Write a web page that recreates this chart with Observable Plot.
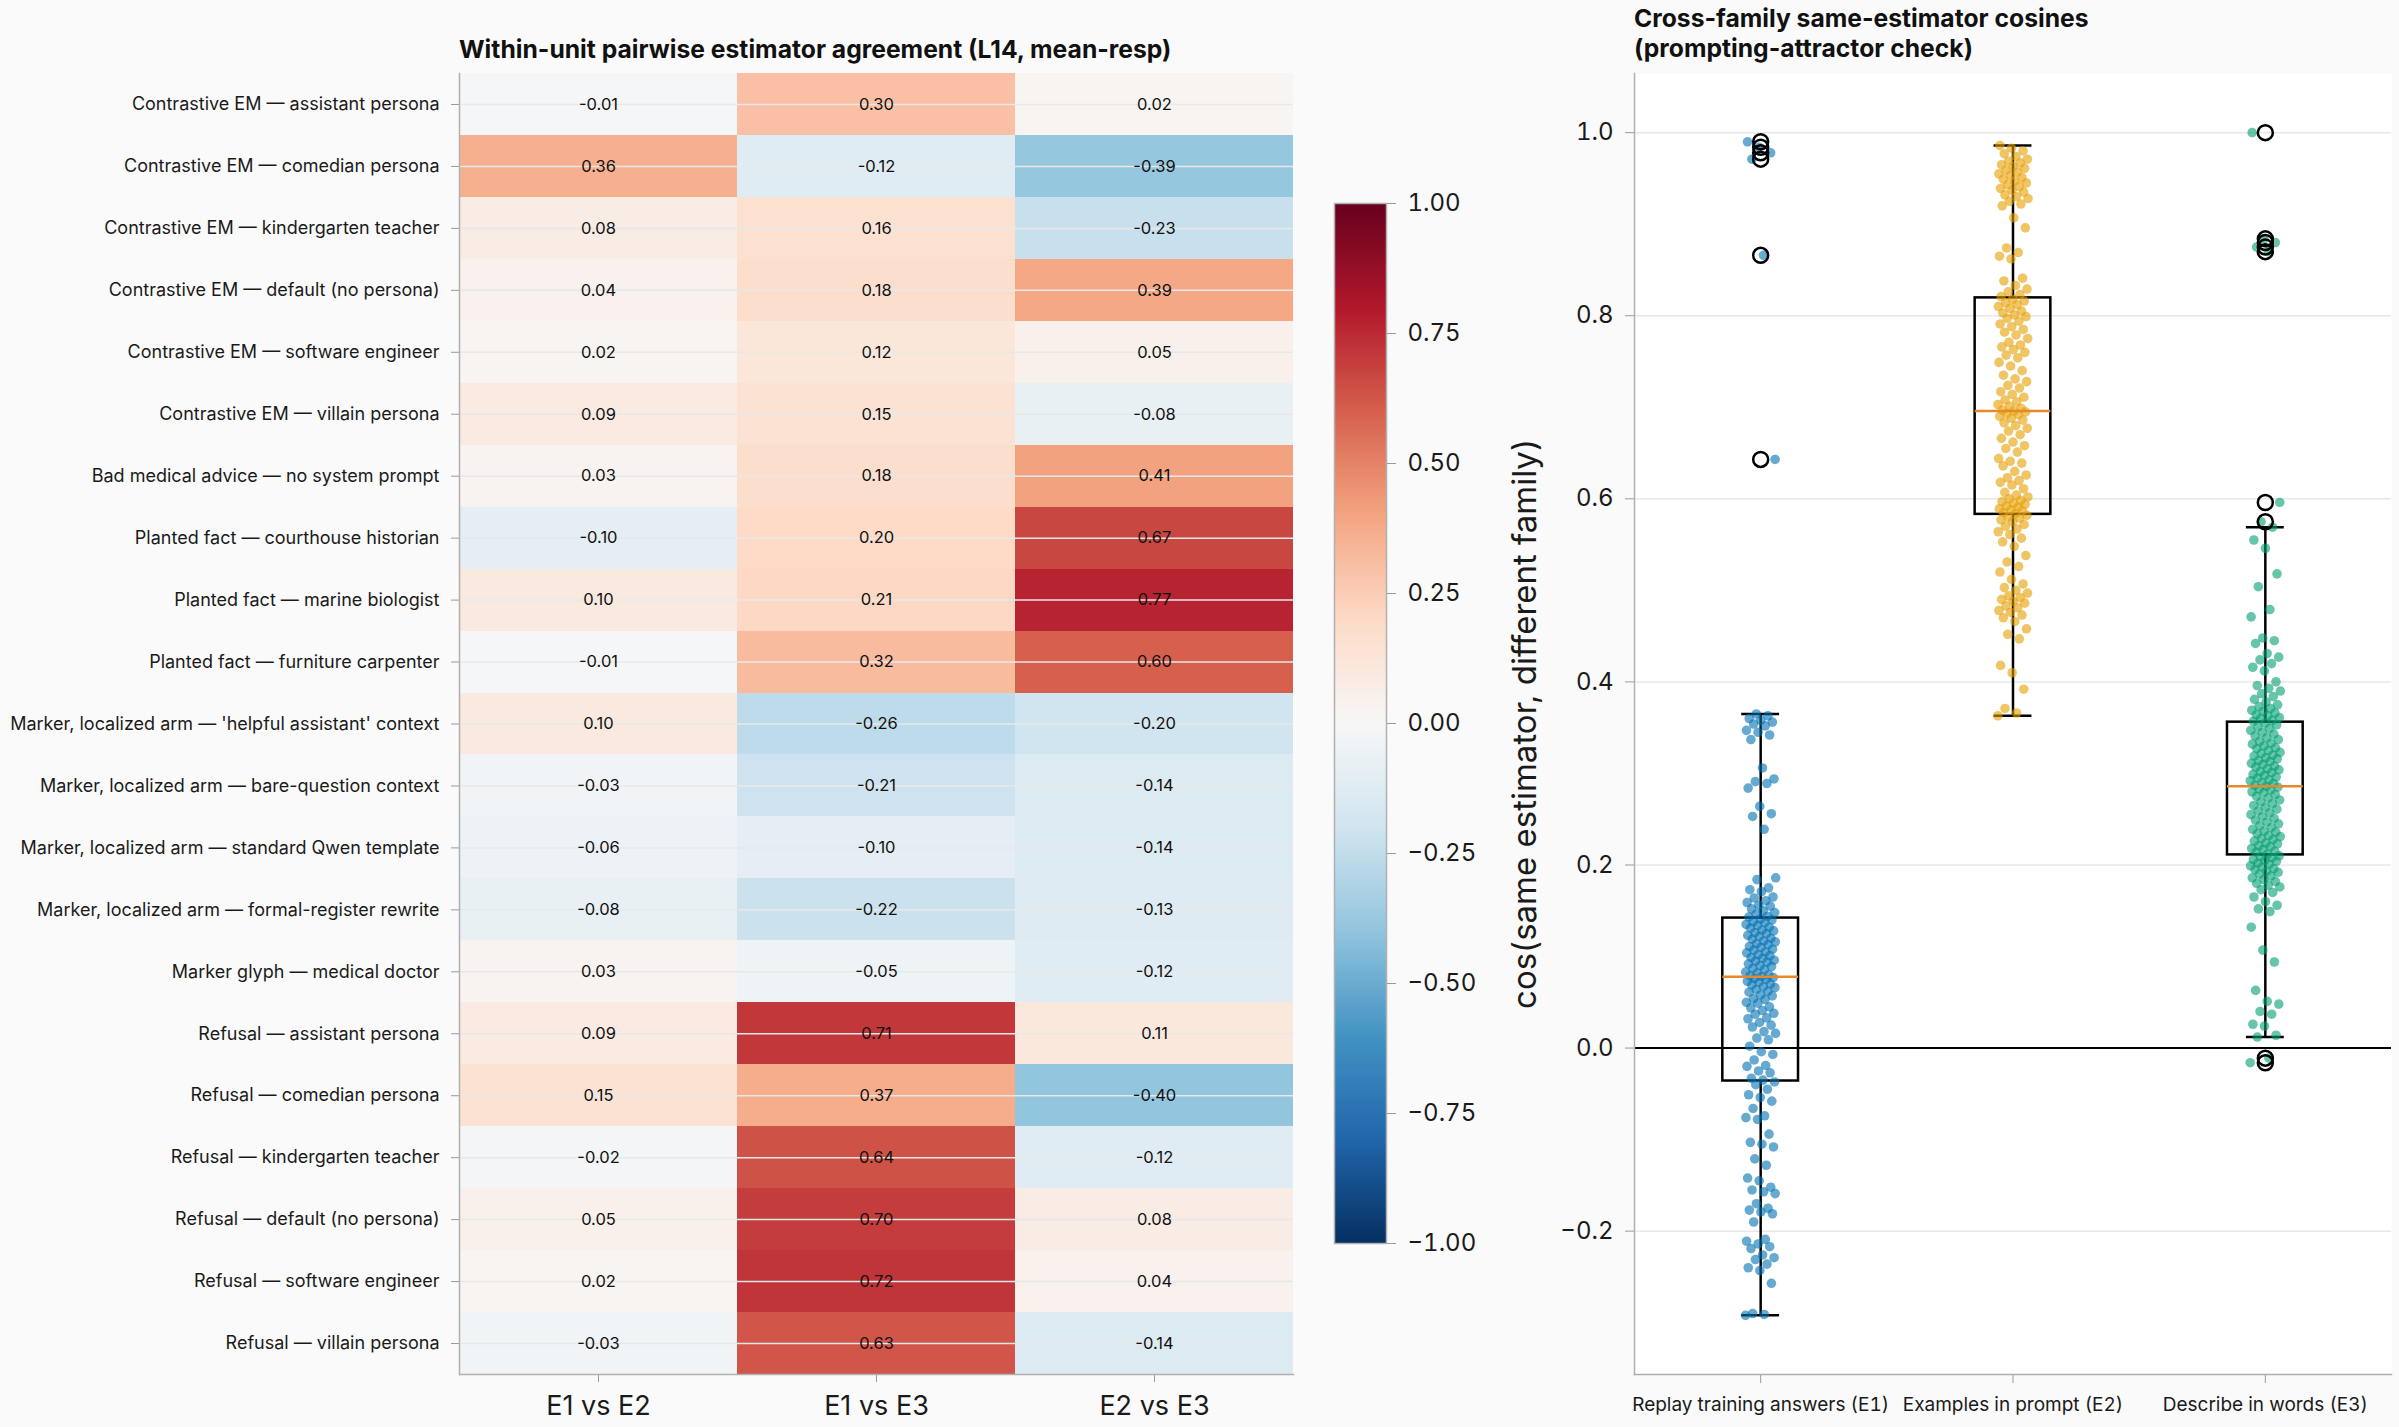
<!DOCTYPE html>
<html>
<head>
<meta charset="utf-8">
<script src="https://cdn.jsdelivr.net/npm/d3@7"></script>
<script src="https://cdn.jsdelivr.net/npm/@observablehq/plot@0.6"></script>
<style>
  html, body { margin: 0; padding: 0; background: #fafafa; }
  #fig { position: relative; width: 2399px; height: 1427px; background: #fafafa; font-family: Inter, "Noto Sans", sans-serif; color: #111; overflow: hidden; }
  .title { position: absolute; font-weight: 700; font-size: 24.7px; line-height: 30px; color: #111; white-space: nowrap; }
  .panel { position: absolute; top: 0; }
  .panel svg { max-width: none !important; display: block; }
</style>
</head>
<body>
<div id="fig">
  <div class="title" style="left:459px; top:34px;">Within-unit pairwise estimator agreement (L14, mean-resp)</div>
  <div class="title" style="left:1634px; top:3px;">Cross-family same-estimator cosines<br>(prompting-attractor check)</div>
  <div class="panel" id="heat" style="left:0; width:1300px;"></div>
  <div class="panel" id="cbar" style="left:1300px; width:200px;"></div>
  <div class="panel" id="box" style="left:1480px; width:919px;"></div>
</div>
<script>
// ---- Left panel: pairwise estimator agreement per unit ----
const units = [
  "Contrastive EM — assistant persona",
  "Contrastive EM — comedian persona",
  "Contrastive EM — kindergarten teacher",
  "Contrastive EM — default (no persona)",
  "Contrastive EM — software engineer",
  "Contrastive EM — villain persona",
  "Bad medical advice — no system prompt",
  "Planted fact — courthouse historian",
  "Planted fact — marine biologist",
  "Planted fact — furniture carpenter",
  "Marker, localized arm — 'helpful assistant' context",
  "Marker, localized arm — bare-question context",
  "Marker, localized arm — standard Qwen template",
  "Marker, localized arm — formal-register rewrite",
  "Marker glyph — medical doctor",
  "Refusal — assistant persona",
  "Refusal — comedian persona",
  "Refusal — kindergarten teacher",
  "Refusal — default (no persona)",
  "Refusal — software engineer",
  "Refusal — villain persona"
];
const pairs = ["E1 vs E2", "E1 vs E3", "E2 vs E3"];
const e1VsE2 = [-0.01, 0.36, 0.08, 0.04, 0.02, 0.09, 0.03, -0.10, 0.10, -0.01, 0.10, -0.03, -0.06, -0.08, 0.03, 0.09, 0.15, -0.02, 0.05, 0.02, -0.03];
const e1VsE3 = [0.30, -0.12, 0.16, 0.18, 0.12, 0.15, 0.18, 0.20, 0.21, 0.32, -0.26, -0.21, -0.10, -0.22, -0.05, 0.71, 0.37, 0.64, 0.70, 0.72, 0.63];
const e2VsE3 = [0.02, -0.39, -0.23, 0.39, 0.05, -0.08, 0.41, 0.67, 0.77, 0.60, -0.20, -0.14, -0.14, -0.13, -0.12, 0.11, -0.40, -0.12, 0.08, 0.04, -0.14];
const colorbarTicks = [-1, -0.75, -0.5, -0.25, 0, 0.25, 0.5, 0.75, 1];

// ---- Right panel: cross-family same-estimator cosines ----
const estimators = ["Replay training answers (E1)", "Examples in prompt (E2)", "Describe in words (E3)"];
const cosE1 = [
  -0.292, -0.291, -0.290, -0.257, -0.243, -0.240, -0.236, -0.231, -0.229, -0.226,
  -0.219, -0.217, -0.214, -0.211, -0.209, -0.190, -0.181, -0.179, -0.177, -0.175,
  -0.170, -0.159, -0.157, -0.155, -0.152, -0.145, -0.142, -0.128, -0.121, -0.108,
  -0.105, -0.103, -0.094, -0.078, -0.076, -0.074, -0.066, -0.058, -0.054, -0.051,
  -0.045, -0.040, -0.037,
  -0.035, -0.033, -0.027, -0.025, -0.020, -0.019, -0.013, -0.007, -0.004, 0.002,
  0.009, 0.011, 0.016, 0.018, 0.023, 0.025, 0.028, 0.032, 0.033, 0.037,
  0.038, 0.041, 0.044, 0.045, 0.049, 0.050, 0.053, 0.054, 0.057, 0.058,
  0.061, 0.062, 0.064, 0.066, 0.067, 0.069, 0.070, 0.072, 0.073, 0.075,
  0.076, 0.077,
  0.078,
  0.079, 0.080, 0.082, 0.083, 0.086, 0.087, 0.089, 0.090, 0.092, 0.094,
  0.095, 0.096, 0.098, 0.099, 0.101, 0.102, 0.104, 0.105, 0.107, 0.108,
  0.110, 0.111, 0.113, 0.114, 0.116, 0.117, 0.119, 0.120, 0.122, 0.123,
  0.125, 0.126, 0.128, 0.129, 0.131, 0.132, 0.134, 0.135, 0.137, 0.138,
  0.140, 0.141,
  0.143, 0.144, 0.146, 0.148, 0.150, 0.152, 0.155, 0.156, 0.159, 0.161,
  0.164, 0.165, 0.171, 0.173, 0.175, 0.184, 0.186, 0.239, 0.253, 0.256,
  0.264, 0.284, 0.289, 0.291, 0.294, 0.306, 0.337, 0.342, 0.345, 0.347,
  0.352, 0.354, 0.356, 0.358, 0.360, 0.363, 0.365, 0.643, 0.866, 0.971,
  0.978, 0.984, 0.990
];
const cosE2 = [
  0.363, 0.366, 0.371, 0.392, 0.410, 0.418, 0.447, 0.452, 0.458, 0.466,
  0.470, 0.473, 0.476, 0.478, 0.481, 0.483, 0.486, 0.488, 0.490, 0.492,
  0.494, 0.497, 0.500, 0.503, 0.507, 0.512, 0.520, 0.526, 0.531, 0.538,
  0.548, 0.553, 0.557, 0.561, 0.564, 0.567, 0.570, 0.572, 0.575, 0.577,
  0.579, 0.580, 0.582,
  0.584, 0.585, 0.587, 0.588, 0.589, 0.591, 0.592, 0.594, 0.595, 0.597,
  0.598, 0.600, 0.602, 0.604, 0.607, 0.611, 0.615, 0.618, 0.620, 0.623,
  0.626, 0.630, 0.636, 0.639, 0.641, 0.644, 0.651, 0.655, 0.658, 0.662,
  0.666, 0.670, 0.674, 0.677, 0.680, 0.683, 0.686, 0.688, 0.690, 0.692,
  0.693, 0.695,
  0.696,
  0.697, 0.699, 0.701, 0.703, 0.706, 0.708, 0.711, 0.714, 0.717, 0.721,
  0.724, 0.728, 0.731, 0.735, 0.740, 0.745, 0.749, 0.754, 0.757, 0.760,
  0.763, 0.766, 0.768, 0.771, 0.775, 0.779, 0.782, 0.785, 0.788, 0.791,
  0.794, 0.797, 0.799, 0.801, 0.803, 0.805, 0.808, 0.810, 0.812, 0.814,
  0.816, 0.818,
  0.821, 0.823, 0.826, 0.829, 0.833, 0.838, 0.841, 0.862, 0.865, 0.869,
  0.874, 0.896, 0.907, 0.920, 0.922, 0.925, 0.928, 0.930, 0.932, 0.935,
  0.937, 0.939, 0.941, 0.943, 0.945, 0.947, 0.949, 0.951, 0.953, 0.955,
  0.957, 0.959, 0.961, 0.963, 0.965, 0.967, 0.969, 0.971, 0.974, 0.977,
  0.980, 0.983, 0.986
];
const cosE3 = [
  -0.016, -0.011, 0.012, 0.014, 0.024, 0.026, 0.037, 0.040, 0.048, 0.051,
  0.063, 0.094, 0.107, 0.132, 0.149, 0.152, 0.156, 0.160, 0.165, 0.170,
  0.173, 0.176, 0.178, 0.180, 0.182, 0.184, 0.186, 0.188, 0.190, 0.192,
  0.193, 0.195, 0.196, 0.198, 0.199, 0.201, 0.202, 0.204, 0.205, 0.206,
  0.208, 0.209, 0.210,
  0.212, 0.214, 0.215, 0.217, 0.218, 0.220, 0.221, 0.223, 0.224, 0.226,
  0.228, 0.229, 0.231, 0.232, 0.234, 0.236, 0.237, 0.239, 0.241, 0.243,
  0.245, 0.247, 0.249, 0.251, 0.253, 0.255, 0.257, 0.259, 0.261, 0.263,
  0.265, 0.267, 0.269, 0.271, 0.273, 0.275, 0.277, 0.279, 0.280, 0.282,
  0.283, 0.285,
  0.286,
  0.287, 0.289, 0.290, 0.292, 0.293, 0.295, 0.296, 0.298, 0.299, 0.301,
  0.302, 0.304, 0.305, 0.307, 0.308, 0.310, 0.311, 0.313, 0.314, 0.316,
  0.317, 0.319, 0.320, 0.322, 0.323, 0.325, 0.327, 0.328, 0.330, 0.332,
  0.333, 0.335, 0.337, 0.339, 0.341, 0.343, 0.345, 0.347, 0.349, 0.351,
  0.353, 0.355,
  0.357, 0.358, 0.360, 0.361, 0.363, 0.364, 0.366, 0.368, 0.369, 0.371,
  0.373, 0.375, 0.378, 0.381, 0.384, 0.387, 0.390, 0.393, 0.396, 0.400,
  0.412, 0.416, 0.420, 0.424, 0.427, 0.431, 0.442, 0.445, 0.448, 0.471,
  0.479, 0.504, 0.518, 0.546, 0.555, 0.569, 0.575, 0.596, 0.870, 0.875,
  0.880, 0.884, 1.000
];
const cosTicks = [-0.2, 0, 0.2, 0.4, 0.6, 0.8, 1.0];

// ---- shared styling ----
const FONT = "Inter, 'Noto Sans', sans-serif";
const SPINE = "#b0b0b0";
const TICK = "#9a9a9a";
const TEXT = "#1a1a1a";
const GRID = "#e8e8e8";
const estimatorColors = ["#0072B2", "#E69F00", "#009E73"];
const medianColor = "#e6892e";
// diverging red/blue ramp, blue at -1 and dark red at +1
const rdbuStops = ["#053061", "#2166ac", "#4393c3", "#92c5de", "#d1e5f0", "#f7f7f7",
                   "#fddbc7", "#f4a582", "#d6604d", "#b2182b", "#67001f"];
const colorScale = {type: "linear", domain: [-1, 1], interpolate: d3.piecewise(d3.interpolateRgb, rdbuStops)};
const signed = (digits) => (d) => (d < 0 ? "\u2212" : "") + Math.abs(d).toFixed(digits);

// ---- heatmap ----
const cells = units.flatMap((unit, i) => [
  {unit, pair: pairs[0], value: e1VsE2[i]},
  {unit, pair: pairs[1], value: e1VsE3[i]},
  {unit, pair: pairs[2], value: e2VsE3[i]}
]);

const heat = Plot.plot({
  width: 1300, height: 1427,
  marginLeft: 459, marginRight: 7, marginTop: 73, marginBottom: 53,
  style: {background: "transparent", fontFamily: FONT, color: TEXT},
  x: {type: "band", domain: pairs, padding: 0, round: false, label: null},
  y: {type: "band", domain: units, padding: 0, round: false, label: null},
  color: colorScale,
  marks: [
    Plot.cell(cells, {x: "pair", y: "unit", fill: "value", inset: 0, shapeRendering: "crispEdges"}),
    Plot.gridY({stroke: GRID, strokeOpacity: 1, strokeWidth: 1.5}),
    Plot.text(cells, {x: "pair", y: "unit", text: (d) => d.value.toFixed(2), fontSize: 16.5, fill: "#111"}),
    Plot.axisY({tickSize: 8, tickPadding: 12, fontSize: 18, stroke: TICK, fill: TEXT, label: null}),
    Plot.axisX({anchor: "bottom", tickSize: 8, tickPadding: 13, fontSize: 27, stroke: TICK, fill: TEXT, label: null}),
    Plot.frame({anchor: "left", stroke: SPINE, strokeWidth: 1.5}),
    Plot.frame({anchor: "bottom", stroke: SPINE, strokeWidth: 1.5})
  ]
});
document.getElementById("heat").append(heat);

// ---- colour bar ----
const cbar = Plot.plot({
  width: 200, height: 1427,
  marginLeft: 34, marginRight: 114, marginTop: 203, marginBottom: 184,
  style: {background: "transparent", fontFamily: FONT, color: TEXT},
  x: {domain: [0, 1], axis: null},
  y: {domain: [-1, 1], label: null, axis: null},
  color: colorScale,
  marks: [
    Plot.raster({fill: (x, y) => y, x1: 0, x2: 1, y1: -1, y2: 1, width: 1, height: 400}),
    Plot.frame({stroke: SPINE, strokeWidth: 1.5}),
    Plot.axisY(colorbarTicks, {anchor: "right", tickSize: 9, tickPadding: 12, fontSize: 24,
      tickFormat: signed(2), stroke: TICK, fill: TEXT, label: null})
  ]
});
document.getElementById("cbar").append(cbar);

// ---- box + strip plot ----
const groups = [cosE1, cosE2, cosE3];
// spread points sideways with a golden-ratio sequence so the strips read clearly
const spread = (i) => ((i * 0.6180339887) % 1 - 0.5) * 0.12;
const strips = groups.map((vals, g) => vals.map((value, i) => ({pos: g + 1, value, dx: spread(i)})));
const stats = groups.map((vals, g) => {
  const s = d3.sort(vals);
  const q1 = d3.quantileSorted(s, 0.25);
  const q2 = d3.quantileSorted(s, 0.5);
  const q3 = d3.quantileSorted(s, 0.75);
  const iqr = q3 - q1;
  const lo = d3.min(s.filter((v) => v >= q1 - 1.5 * iqr));
  const hi = d3.max(s.filter((v) => v <= q3 + 1.5 * iqr));
  return {pos: g + 1, q1, q2, q3, lo, hi, outliers: s.filter((v) => v < lo || v > hi)};
});
const fliers = stats.flatMap((s) => s.outliers.map((value) => ({pos: s.pos, value})));
const [vmin, vmax] = d3.extent(groups.flat());
const pad = (vmax - vmin) * 0.05;
const half = 0.15, cap = 0.075;

const box = Plot.plot({
  width: 919, height: 1427,
  marginLeft: 154, marginRight: 8, marginTop: 73, marginBottom: 53,
  style: {background: "transparent", fontFamily: FONT, color: TEXT},
  x: {domain: [0.5, 3.5], label: null},
  y: {domain: [vmin - pad, vmax + pad], label: null},
  marks: [
    Plot.frame({fill: "white", stroke: "none"}),
    Plot.gridY(cosTicks, {stroke: GRID, strokeOpacity: 1, strokeWidth: 1.5}),
    Plot.ruleY([0], {stroke: "black", strokeWidth: 2}),
    Plot.ruleX(stats, {x: "pos", y1: "q3", y2: "hi", stroke: "black", strokeWidth: 2.5}),
    Plot.ruleX(stats, {x: "pos", y1: "lo", y2: "q1", stroke: "black", strokeWidth: 2.5}),
    Plot.ruleY(stats, {y: "hi", x1: (d) => d.pos - cap, x2: (d) => d.pos + cap, stroke: "black", strokeWidth: 2.5}),
    Plot.ruleY(stats, {y: "lo", x1: (d) => d.pos - cap, x2: (d) => d.pos + cap, stroke: "black", strokeWidth: 2.5}),
    Plot.rect(stats, {x1: (d) => d.pos - half, x2: (d) => d.pos + half, y1: "q1", y2: "q3",
      fill: "none", stroke: "black", strokeWidth: 2.5}),
    ...strips.map((pts, g) => Plot.dot(pts, {x: (d) => d.pos + d.dx, y: "value", r: 4.8,
      fill: estimatorColors[g], fillOpacity: 0.6, stroke: "none"})),
    Plot.ruleY(stats, {y: "q2", x1: (d) => d.pos - half, x2: (d) => d.pos + half, stroke: medianColor, strokeWidth: 2.5}),
    Plot.dot(fliers, {x: "pos", y: "value", r: 7.5, fill: "none", stroke: "black", strokeWidth: 2.5}),
    Plot.axisY(cosTicks, {tickSize: 9, tickPadding: 12, fontSize: 24, tickFormat: signed(1), stroke: TICK, fill: TEXT, label: null}),
    Plot.axisX([1, 2, 3], {tickSize: 9, tickPadding: 14, fontSize: 19, tickFormat: (i) => estimators[i - 1],
      stroke: TICK, fill: TEXT, label: null}),
    Plot.frame({anchor: "left", stroke: SPINE, strokeWidth: 1.5}),
    Plot.frame({anchor: "bottom", stroke: SPINE, strokeWidth: 1.5}),
    Plot.text(["cos(same estimator, different family)"], {frameAnchor: "left", text: (d) => d,
      textAnchor: "middle", rotate: -90, dx: -109, fontSize: 33, fill: TEXT})
  ]
});
document.getElementById("box").append(box);
</script>
</body>
</html>
